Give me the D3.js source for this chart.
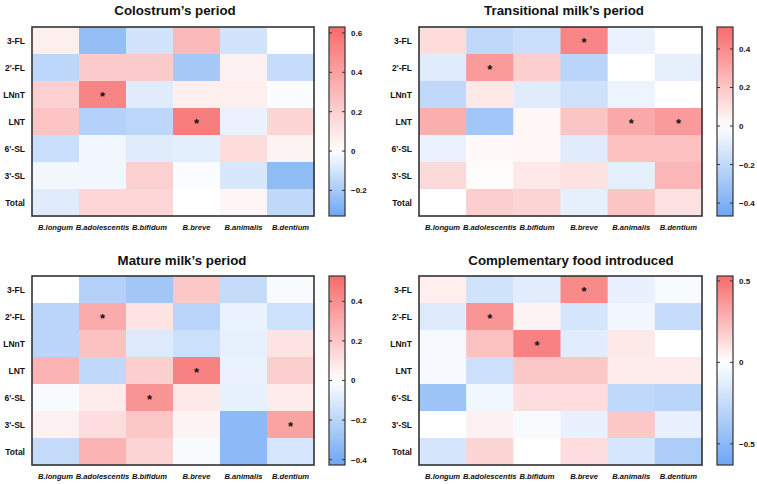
<!DOCTYPE html>
<html><head><meta charset="utf-8">
<script src="https://cdn.jsdelivr.net/npm/d3@7"></script>
<style>
html,body{margin:0;padding:0;background:#fff;}
svg{display:block;font-family:"Liberation Sans",Arial,sans-serif;}
</style></head>
<body><svg id="c" width="757" height="484"></svg>
<script>
const rows = ["3-FL","2'-FL","LNnT","LNT","6'-SL","3'-SL","Total"];
const cols = ["B.longum","B.adolescentis","B.bifidum","B.breve","B.animalis","B.dentium"];
const titles = ["Colostrum\u2019s period","Transitional milk\u2019s period","Mature milk\u2019s period","Complementary food introduced"];

const colostrum = [
  [0.07,-0.24,-0.10,0.30,-0.10,0.00],
  [-0.15,0.22,0.22,-0.20,0.06,-0.13],
  [0.20,0.52,-0.07,0.07,0.07,-0.01],
  [0.25,-0.17,-0.15,0.55,-0.05,0.18],
  [-0.12,-0.03,-0.07,-0.06,0.15,0.05],
  [-0.03,-0.03,0.20,-0.01,-0.09,-0.25],
  [-0.07,0.17,0.17,0.00,0.04,-0.14]
];
const transitional = [
  [0.12,-0.20,-0.17,0.42,-0.07,0.00],
  [-0.10,0.35,0.17,-0.22,0.00,-0.08],
  [-0.20,0.08,-0.10,-0.15,-0.06,0.00],
  [0.28,-0.30,0.03,0.20,0.30,0.35],
  [-0.07,0.02,0.03,-0.10,0.22,0.22],
  [0.13,0.01,0.08,0.10,-0.08,0.25],
  [0.00,0.17,0.15,-0.08,0.20,0.10]
];
const mature = [
  [0.00,-0.22,-0.27,0.20,-0.17,-0.02],
  [-0.20,0.30,0.10,-0.20,-0.06,-0.14],
  [-0.20,0.22,-0.10,-0.15,-0.07,0.10],
  [0.27,-0.18,0.17,0.45,-0.06,0.17],
  [-0.02,0.07,0.38,0.08,-0.07,0.07],
  [0.05,0.12,0.20,0.04,-0.33,0.33],
  [-0.17,0.27,0.15,-0.02,-0.33,-0.12]
];
const complementary = [
  [0.06,-0.20,-0.13,0.42,-0.10,-0.03],
  [-0.15,0.38,0.04,-0.18,-0.05,-0.25],
  [-0.04,0.22,0.45,-0.13,0.08,0.00],
  [-0.04,-0.22,0.20,0.20,0.07,0.07],
  [-0.42,-0.06,0.12,0.12,-0.27,-0.30],
  [0.00,0.05,-0.03,-0.10,0.20,-0.10],
  [-0.18,0.15,0.00,0.12,-0.17,-0.35]
];
// significant cells [row, col]
const sigColostrum = [[2,1],[3,3]];
const sigTransitional = [[0,3],[1,1],[3,4],[3,5]];
const sigMature = [[1,1],[3,3],[4,2],[5,5]];
const sigComplementary = [[0,3],[1,1],[2,2]];

const domains = [[-0.33,0.63],[-0.467,0.514],[-0.427,0.528],[-0.63,0.53]];
const ticks1 = [-0.2,0,0.2,0.4,0.6];
const ticks2 = [-0.4,-0.2,0,0.2,0.4];
const ticks3 = [-0.4,-0.2,0,0.2,0.4];
const ticks4 = [-0.5,0,0.5];

const matrices = [colostrum, transitional, mature, complementary];
const sigs = [sigColostrum, sigTransitional, sigMature, sigComplementary];
const tickSets = [ticks1, ticks2, ticks3, ticks4];

// layout
const layout = [
  {x0:32, x1:314, y0:27, y1:216, cb:329, tx:175, ty:15},
  {x0:419, x1:702, y0:27, y1:216, cb:717, tx:564, ty:15},
  {x0:32, x1:314, y0:276, y1:465, cb:329, tx:182, ty:265},
  {x0:419, x1:702, y0:276, y1:465, cb:717, tx:571, ty:265}
];
const BLUE = "#6ca6f3", RED = "#f76b6b";
const svg = d3.select("#c");
const defs = svg.append("defs");

matrices.forEach((m, p) => {
  const L = layout[p];
  const g = svg.append("g");
  const dom = domains[p];
  const color = d3.scaleLinear().domain([dom[0],0,dom[1]]).range([BLUE,"#ffffff",RED]).interpolate(d3.interpolateRgb).clamp(true);
  const x = d3.scaleBand().domain(cols).range([L.x0, L.x1]);
  const y = d3.scaleBand().domain(rows).range([L.y0, L.y1]);

  const cells = [];
  m.forEach((r,i)=>r.forEach((v,j)=>cells.push({r:rows[i], c:cols[j], v})));
  g.selectAll("rect.cell").data(cells).join("rect")
    .attr("x", d=>x(d.c)).attr("y", d=>y(d.r))
    .attr("width", x.bandwidth()+0.5).attr("height", y.bandwidth()+0.5)
    .attr("fill", d=>color(d.v));

  g.selectAll("text.star").data(sigs[p]).join("text")
    .attr("x", d=>x(cols[d[1]])+x.bandwidth()/2)
    .attr("y", d=>y(rows[d[0]])+y.bandwidth()/2+6)
    .attr("text-anchor","middle").attr("font-size",13).attr("font-weight","bold")
    .attr("fill","#111").text("*");

  g.append("rect").attr("x",L.x0).attr("y",L.y0).attr("width",L.x1-L.x0).attr("height",L.y1-L.y0)
    .attr("fill","none").attr("stroke","#333").attr("stroke-width",1.6);

  // row labels
  g.selectAll("text.row").data(rows).join("text")
    .attr("x", L.x0-7).attr("y", d=>y(d)+y.bandwidth()/2+3)
    .attr("text-anchor","end").attr("font-size",8.5).attr("font-weight","bold").attr("fill","#111")
    .text(d=>d);
  // col labels
  g.selectAll("text.col").data(cols).join("text")
    .attr("x", d=>x(d)+x.bandwidth()/2).attr("y", L.y1+14)
    .attr("text-anchor","middle").attr("font-size",7.6).attr("font-weight","bold").attr("font-style","italic").attr("fill","#111")
    .text(d=>d);
  // title
  g.append("text").attr("x",L.tx).attr("y",L.ty).attr("text-anchor","middle")
    .attr("font-size",13.3).attr("font-weight","bold").attr("fill","#111").text(titles[p]);

  // colorbar
  const cy = d3.scaleLinear().domain(dom).range([L.y1, L.y0]);
  const gid = "grad"+p;
  const grad = defs.append("linearGradient").attr("id",gid).attr("x1",0).attr("y1",1).attr("x2",0).attr("y2",0);
  d3.range(0,1.0001,0.05).forEach(t=>{
    const v = dom[0]+t*(dom[1]-dom[0]);
    grad.append("stop").attr("offset",t).attr("stop-color",color(v));
  });
  const cbw = 16;
  g.append("rect").attr("x",L.cb).attr("y",L.y0).attr("width",cbw).attr("height",L.y1-L.y0)
    .attr("fill",`url(#${gid})`).attr("stroke","#333").attr("stroke-width",1.2);
  const tk = tickSets[p];
  const fmt = d3.format("");
  g.selectAll("line.tl").data(tk).join("line")
    .attr("x1",L.cb).attr("x2",L.cb+3).attr("y1",d=>cy(d)).attr("y2",d=>cy(d))
    .attr("stroke","#333").attr("stroke-width",1);
  g.selectAll("line.tr").data(tk).join("line")
    .attr("x1",L.cb+cbw-3).attr("x2",L.cb+cbw).attr("y1",d=>cy(d)).attr("y2",d=>cy(d))
    .attr("stroke","#333").attr("stroke-width",1);
  g.selectAll("text.tk").data(tk).join("text")
    .attr("x",L.cb+cbw+6).attr("y",d=>cy(d)+3)
    .attr("font-size",8).attr("font-weight","bold").attr("fill","#111")
    .text(d=>fmt(d));
});
</script></body></html>
